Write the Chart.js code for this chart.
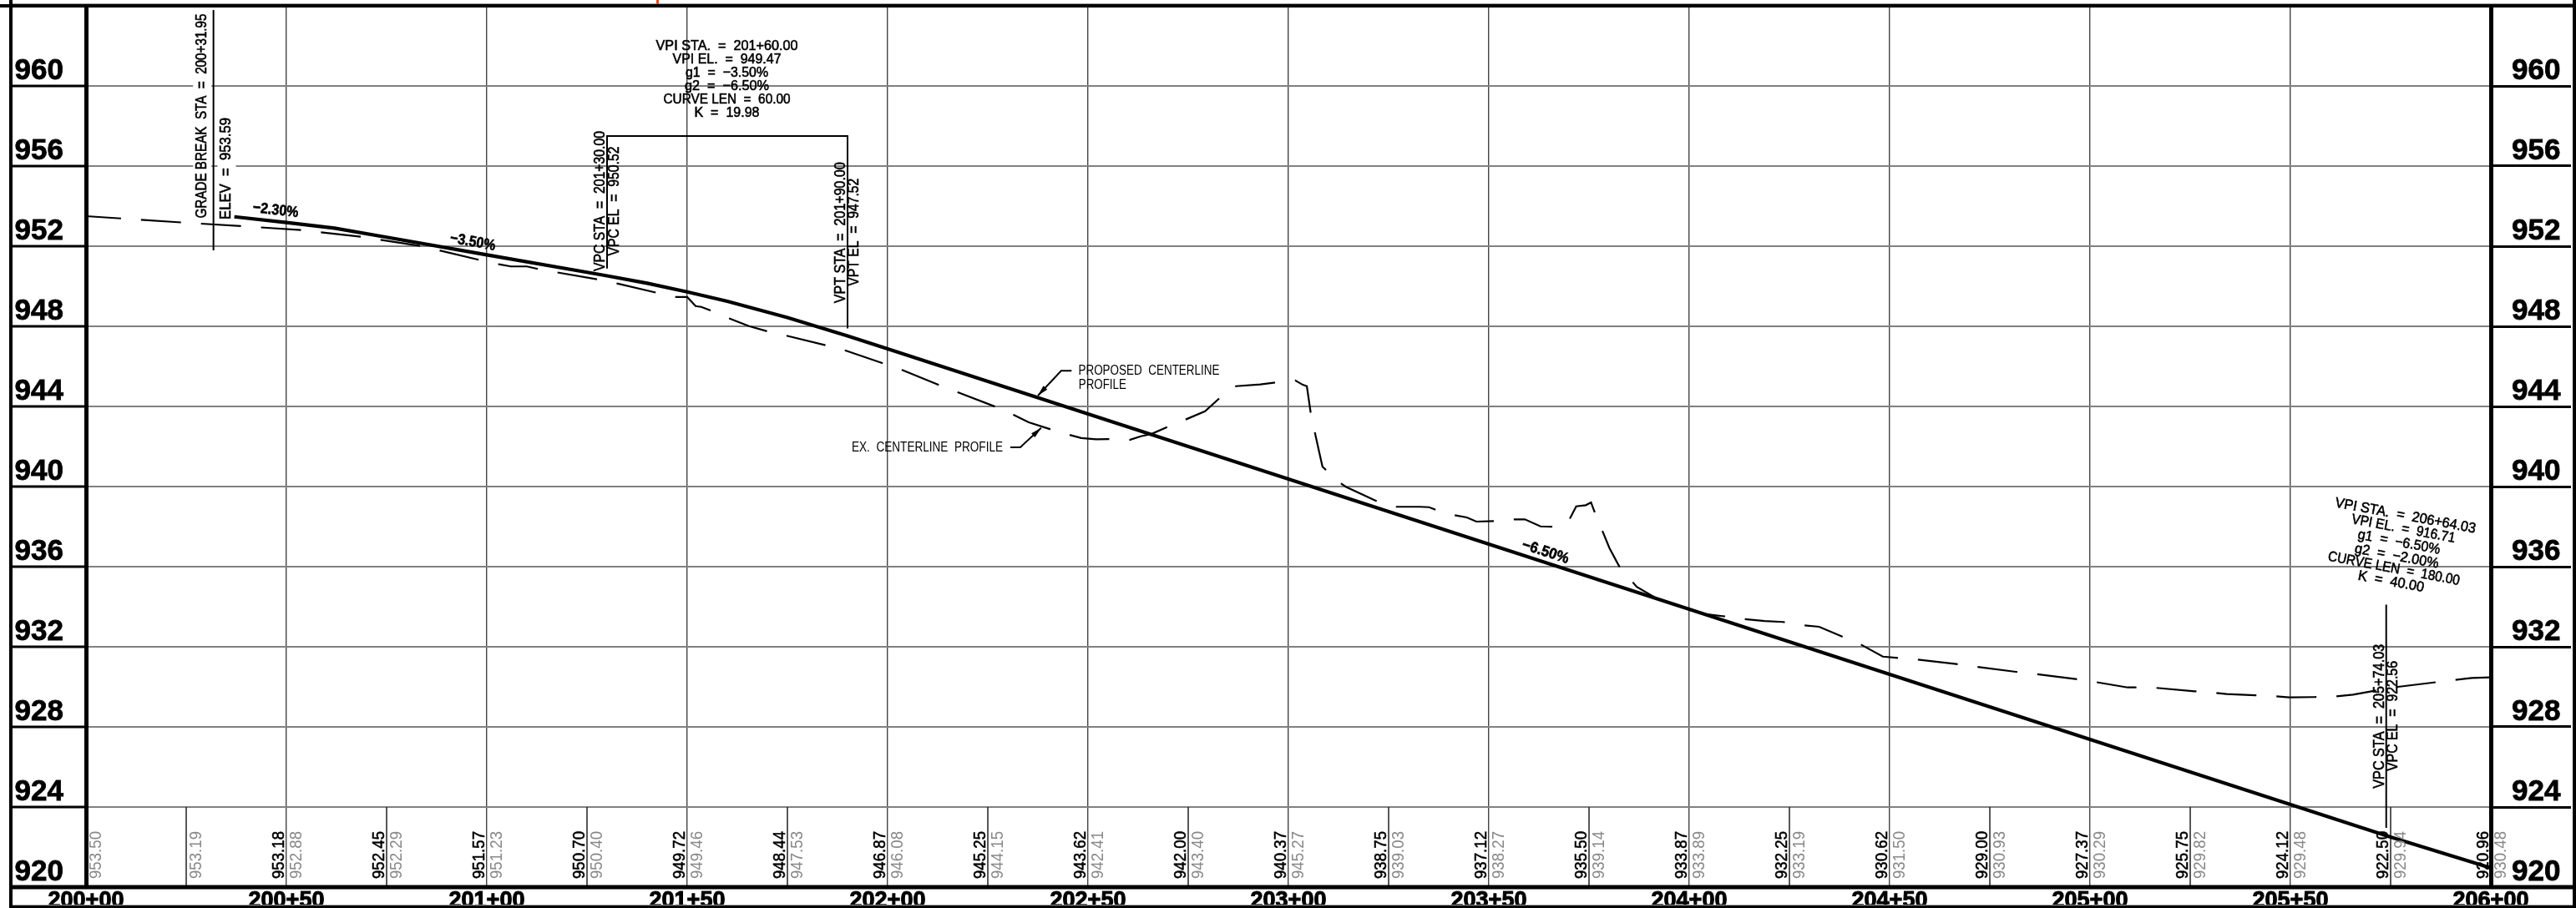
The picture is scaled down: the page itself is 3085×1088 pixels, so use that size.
<!DOCTYPE html>
<html>
<head>
<meta charset="utf-8">
<style>html,body{margin:0;padding:0;background:#fff}#wrap{position:relative;width:3085px;height:1088px}</style>
<script src="https://cdn.jsdelivr.net/npm/chart.js@4"></script>
</head>
<body>
<div id="wrap"><canvas id="c" width="3085" height="1088"></canvas></div>
<script>
// ---- data (stations in feet: 20000 = 200+00) ----
const elevationTicks = [920,924,928,932,936,940,944,948,952,956,960,964];
const proposedStations = [20037,20050,20062,20075,20100,20125,20130,20140,20150,20160,20175,20190,20200,20225,20250,20275,20300,20325,20350,20375,20400,20425,20450,20475,20500,20525,20550,20575,20600];
const proposedElevations = [953.47,953.18,952.90,952.45,951.57,950.70,950.52,950.15,949.72,949.25,948.44,947.52,946.87,945.25,943.62,942.00,940.37,938.75,937.12,935.50,933.87,932.25,930.62,929.00,927.37,925.75,924.12,922.50,920.96];
const existingStations = [20000,20024.2,20039,20054,20069,20083.8,20098.4,20103,20106,20110,20113,20128,20132.7,20142.3,20147.3,20150,20152.1,20153.5,20156.2,20160.6,20165.4,20170.2,20175,20184.8,20189.5,20199,20203.6,20213.1,20217.5,20227.1,20231.5,20235.2,20240.8,20245.6,20248.3,20252,20255.7,20260.4,20263.2,20265.9,20269.8,20274.5,20279.2,20282.9,20286.9,20293,20296.9,20301.7,20303.6,20304.6,20305.6,20306.6,20307.6,20308.5,20309.6,20313.3,20314.3,20322.3,20326.9,20332.7,20335.1,20336.9,20341.5,20344.5,20346.9,20351.5,20356.3,20359,20362.9,20366.1,20369.9,20371.8,20374.2,20375.5,20376.3,20378.1,20380.1,20382.5,20385.6,20386.9,20392.1,20403.7,20408.3,20413.2,20418.8,20423.4,20428,20432.4,20437.8,20442.2,20448.3,20451.5,20456.3,20466.6,20471.3,20481.5,20486.2,20496.4,20501.1,20509.4,20511.2,20515.9,20526.1,20530.8,20534.1,20541.2,20545.8,20549.7,20556,20560.8,20565.6,20570.8,20576.4,20585.8,20590.5,20595.2,20600];
const existingElevations = [953.5,953.18,953.0,952.8,952.46,952.0,951.3,951.1,950.99,950.99,950.85,950.33,950.13,949.68,949.46,949.46,949.01,948.97,948.76,948.39,948.01,947.74,947.52,947.04,946.79,946.14,945.82,945.05,944.71,943.97,943.57,943.21,942.85,942.57,942.42,942.36,942.37,942.33,942.51,942.63,942.97,943.36,943.76,944.43,945.01,945.1,945.2,945.3,945.08,945.01,943.63,942.7,941.79,940.99,940.79,940.13,939.99,939.24,938.99,938.99,938.97,938.83,938.57,938.46,938.25,938.28,938.36,938.36,938.01,937.99,938.28,939.01,939.07,939.21,938.78,937.9,936.93,936.03,935.3,934.99,934.39,933.64,933.53,933.39,933.29,933.24,933.08,933.0,932.54,932.18,931.51,931.45,931.38,931.14,931.01,930.75,930.65,930.39,930.25,929.97,929.97,929.96,929.78,929.71,929.64,929.58,929.54,929.47,929.49,929.51,929.61,929.8,929.99,930.22,930.33,930.44,930.47];
const minorStations = [20025,20075,20125,20175,20225,20275,20325,20375,20425,20475,20525,20575];
const proposedLabelStations = [20050,20075,20100,20125,20150,20175,20200,20225,20250,20275,20300,20325,20350,20375,20400,20425,20450,20475,20500,20525,20550,20575,20600];
const proposedLabels = ["953.18","952.45","951.57","950.70","949.72","948.44","946.87","945.25","943.62","942.00","940.37","938.75","937.12","935.50","933.87","932.25","930.62","929.00","927.37","925.75","924.12","922.50","920.96"];
const existingLabelStations = [20000,20025,20050,20075,20100,20125,20150,20175,20200,20225,20250,20275,20300,20325,20350,20375,20400,20425,20450,20475,20500,20525,20550,20575,20600];
const existingLabels = ["953.50","953.19","952.88","952.29","951.23","950.40","949.46","947.53","946.08","944.15","942.41","943.40","945.27","939.03","938.27","939.14","933.89","933.19","931.50","930.93","930.29","929.82","929.48","929.94","930.48"];
// callout lines, separated by nulls
const leaderStations = [20031.8,20031.8,null,20130,20130,20190,20190,null,20573.9,20573.9,null,20245.9,20243.3,20237.5,null,20230.6,20233.1,20238.3];
const leaderElevations = [963.79,951.79,null,950.89,957.5,957.5,947.9,null,934.1,922.96,null,945.78,945.78,944.54,null,941.96,941.96,942.93];
// text notes: [text, station, elevation, rotation deg, font size, length px, style]
const notes = [
 ["GRADE BREAK  STA  =  200+31.95",20029,958.5,-90,18,245,"wipe"],
 ["ELEV  =  953.59",20035.1,955.875,-90,18,122,"wipe"],
 ["−2.30%",20047.3,953.79,6.6,18,55,"bold"],
 ["−3.50%",20096.5,952.2,10,18,55,"bold"],
 ["−6.50%",20364.1,936.73,18,18,58,"bold"],
 ["VPC STA  =  201+30.00",20128.4,954.25,-90,18,168,""],
 ["VPC EL  =  950.52",20131.8,954.25,-90,18,131,""],
 ["VPT STA  =  201+90.00",20188.3,952.68,-90,18,169,""],
 ["VPT EL  =  947.52",20191.7,952.7,-90,18,129,""],
 ["VPC STA  =  205+74.03",20572.4,928.53,-90,18,173,""],
 ["VPC EL  =  922.56",20575.7,928.54,-90,18,132,""],
 ["VPI STA.  =  201+60.00",20159.9,962,0,17,170,""],
 ["VPI EL.  =  949.47",20159.9,961.33,0,17,130,""],
 ["g1  =  −3.50%",20159.9,960.64,0,17,99,""],
 ["g2  =  −6.50%",20159.9,959.99,0,17,101,""],
 ["CURVE LEN  =  60.00",20159.9,959.32,0,17,152,""],
 ["K  =  19.98",20159.9,958.64,0,17,78,""],
 ["VPI STA.  =  206+64.03",20578.7,938.53,10.6,17,171,""],
 ["VPI EL.  =  916.71",20578.2,937.88,10.6,17,126,""],
 ["g1  =  −6.50%",20577.1,937.21,10.6,17,100,""],
 ["g2  =  −2.00%",20576.5,936.51,10.6,17,102,""],
 ["CURVE LEN  =  180.00",20575.8,935.89,10.6,17,160,""],
 ["K  =  40.00",20575.1,935.24,10.6,17,80,""],
 ["PROPOSED  CENTERLINE",20265.2,945.75,0,16,169,"thin"],
 ["PROFILE",20253.6,945.06,0,16,57,"thin"],
 ["EX.  CENTERLINE  PROFILE",20209.9,941.94,0,16,181,"thin"]
];

// ---- helpers ----
const zip = (xs,ys)=>xs.map((x,i)=>({x:x,y:ys[i]}));
const FONT = '"Liberation Sans"';
function note(ctx,n,xs,ys){
  const [t,st,el,rot,size,len,style]=n;
  ctx.save();
  ctx.translate(xs.getPixelForValue(st),ys.getPixelForValue(el));
  ctx.rotate(rot*Math.PI/180);
  ctx.font=(style==='bold'?'bold ':'')+size+'px '+FONT;
  ctx.textAlign='center';ctx.textBaseline='middle';
  ctx.scale(len/ctx.measureText(t).width,1);
  ctx.fillStyle='#000';ctx.fillText(t,0,0);
  if(style!=='thin'){ctx.strokeStyle='#000';ctx.lineWidth=0.6;ctx.strokeText(t,0,0);}
  ctx.restore();
}
const plugin={
  id:'profile',
  beforeDatasetsDraw(chart){
    const ctx=chart.ctx,xs=chart.scales.x,ys=chart.scales.y;
    ctx.save();ctx.fillStyle='#fff';
    notes.filter(n=>n[6]==='wipe').forEach(n=>{
      const cx=xs.getPixelForValue(n[1]),cy=ys.getPixelForValue(n[2]);
      ctx.fillRect(cx-11,cy-n[5]/2-2,22,n[5]+4);
    });
    ctx.restore();
  },
  afterDatasetsDraw(chart){
    const ctx=chart.ctx,xs=chart.scales.x,ys=chart.scales.y,a=chart.chartArea;
    notes.forEach(n=>note(ctx,n,xs,ys));
    // elevation read-outs beside each station line
    const base=ys.getPixelForValue(920)-10;
    const column=(labels,stations,dx,color,extra)=>labels.forEach((t,i)=>{
      ctx.save();
      ctx.translate(xs.getPixelForValue(stations[i])+dx,base);
      ctx.rotate(-Math.PI/2);
      ctx.font='21px '+FONT;ctx.textAlign='left';ctx.textBaseline='alphabetic';
      ctx.scale(57/ctx.measureText(t).width,1);
      ctx.fillStyle=color;ctx.fillText(t,0,0);
      if(extra){ctx.strokeStyle=color;ctx.lineWidth=0.6;ctx.strokeText(t,0,0);}
      ctx.restore();
    });
    column(proposedLabels,proposedLabelStations,-3,'#000',true);
    column(existingLabels,existingLabelStations,18,'#888',false);
    // arrow heads on the two profile call-outs
    [[11,12,13],[15,16,17]].forEach(([,b,c])=>{
      const px=xs.getPixelForValue(leaderStations[c]),py=ys.getPixelForValue(leaderElevations[c]);
      const qx=xs.getPixelForValue(leaderStations[b]),qy=ys.getPixelForValue(leaderElevations[b]);
      const ang=Math.atan2(py-qy,px-qx);
      ctx.save();ctx.translate(px,py);ctx.rotate(ang);
      ctx.fillStyle='#000';ctx.beginPath();ctx.moveTo(0,0);ctx.lineTo(-13,-3.2);ctx.lineTo(-13,3.2);ctx.closePath();ctx.fill();
      ctx.restore();
    });
    // drawing frame
    ctx.save();
    ctx.fillStyle='#000';
    ctx.fillRect(0,a.top-2,chart.width,4);                 // top rule, full sheet
    ctx.fillRect(11,0,4,chart.height);                     // outer left
    ctx.fillRect(chart.width-4,0,4,chart.height);          // outer right
    ctx.fillRect(11,a.bottom-2.5,chart.width-15,5);        // bottom rule
    ctx.fillRect(11,chart.height-3,chart.width-15,3);      // sheet edge
    ctx.fillStyle='#9a9a9a';
    ctx.fillRect(15,a.top-3,chart.width-19,1);
    ctx.fillRect(15,chart.height-4,chart.width-19,1);
    ctx.fillStyle='#e8481c';
    ctx.fillRect(786,0,3,5);
    ctx.restore();
  }
};
const axisFont={family:'Liberation Sans',size:35,weight:'bold'};
new Chart(document.getElementById('c'),{
  type:'line',
  data:{datasets:[
    {label:'Proposed centerline profile',data:zip(proposedStations,proposedElevations),borderColor:'#000',borderWidth:4.2,pointRadius:0,tension:0,order:1},
    {label:'Existing centerline profile',data:zip(existingStations,existingElevations),borderColor:'#000',borderWidth:2.2,borderDash:[48,24],borderDashOffset:6,pointRadius:0,tension:0,order:2},
    {label:'Call-outs',data:zip(leaderStations,leaderElevations),borderColor:'#000',borderWidth:2,pointRadius:0,tension:0,spanGaps:false,order:3},
    {label:'Station ticks',data:minorStations.flatMap(s=>[{x:s,y:920},{x:s,y:924},{x:s,y:null}]),borderColor:'#222',borderWidth:1.5,pointRadius:0,tension:0,spanGaps:false,order:4}
  ]},
  options:{
    responsive:false,animation:false,devicePixelRatio:1,
    layout:{padding:{top:7,left:0,right:0,bottom:0}},
    plugins:{legend:{display:false},tooltip:{enabled:false},title:{display:false}},
    scales:{
      x:{type:'linear',position:'bottom',min:20000,max:20600,
        afterBuildTicks(s){s.ticks=[];for(let v=20000;v<=20600;v+=50)s.ticks.push({value:v});},
        afterFit(s){s.height=25;},
        grid:{color:'#444',lineWidth:1.4,drawTicks:false},
        border:{display:false},
        ticks:{autoSkip:false,maxRotation:0,minRotation:0,padding:0,color:'#000',textStrokeColor:'#000',textStrokeWidth:1,font:{family:'Liberation Sans',size:27,weight:'bold'},
          callback(v){const s=Math.floor(v/100),r=v%100;return s+'+'+String(r).padStart(2,'0');}}
      },
      y:{type:'linear',position:'left',min:920,max:964,
        afterBuildTicks(s){s.ticks=elevationTicks.map(v=>({value:v}));},
        afterFit(s){s.width=103;},
        grid:{color:'#808080',lineWidth:2,tickLength:89,tickColor:'#000',tickWidth:3},
        border:{color:'#000',width:5},
        ticks:{autoSkip:false,padding:-62,labelOffset:-18,color:'#000',textStrokeColor:'#000',textStrokeWidth:0.8,font:axisFont,
          callback(v){return v===964?'':String(v);}}
      },
      y2:{type:'linear',position:'right',min:920,max:964,
        afterBuildTicks(s){s.ticks=elevationTicks.map(v=>({value:v}));},
        afterFit(s){s.width=102;},
        grid:{drawOnChartArea:false,tickLength:96,tickColor:'#000',tickWidth:3},
        border:{color:'#000',width:5},
        ticks:{autoSkip:false,padding:-71,labelOffset:-18,color:'#000',textStrokeColor:'#000',textStrokeWidth:0.8,font:axisFont,
          callback(v){return v===964?'':String(v);}}
      }
    }
  },
  plugins:[plugin]
});
</script>
</body>
</html>
